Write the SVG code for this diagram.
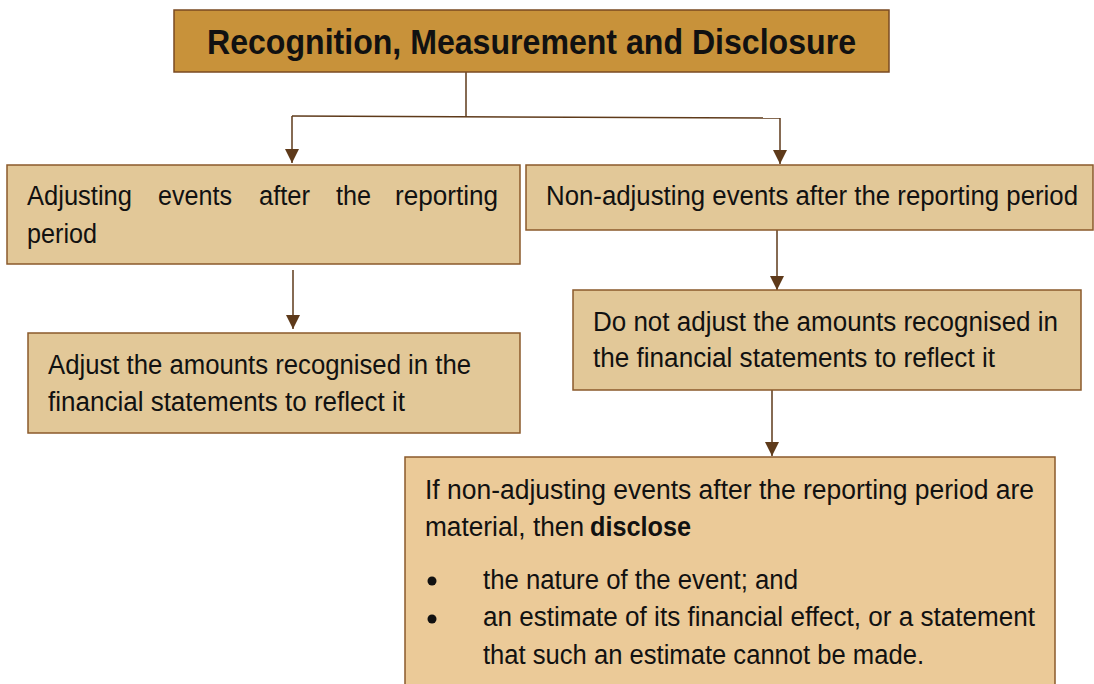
<svg xmlns="http://www.w3.org/2000/svg" width="1094" height="684" viewBox="0 0 1094 684">
<defs>
<marker id="ah" viewBox="0 0 10 10" refX="10" refY="5" markerWidth="14" markerHeight="14" markerUnits="userSpaceOnUse" orient="auto">
<path d="M0,0 L10,5 L0,10 Z" fill="#5E3A1A"/>
</marker>
</defs>
<style>
.box{fill:#E2C898;stroke:#8B5A2B;stroke-width:1.5}
.boxe{fill:#EBCA98;stroke:#8B5A2B;stroke-width:1.5}
.title{fill:#C8923A;stroke:#7A4A22;stroke-width:1.5}
.t{font-family:"Liberation Sans",Arial,sans-serif;font-size:27px;fill:#111}
.tb{font-family:"Liberation Sans",Arial,sans-serif;font-size:27px;font-weight:bold;fill:#111}
.tt{font-family:"Liberation Sans",Arial,sans-serif;font-size:35px;font-weight:bold;fill:#111}
.c{stroke:#5E3A1A;stroke-width:1.5;fill:none}
</style>
<rect width="1094" height="684" fill="#fff"/>
<g id="connectors">
<path class="c" d="M466,72 V117"/>
<path class="c" d="M292,116 L780,118"/>
<path class="c" d="M292,116 V163" marker-end="url(#ah)"/>
<path class="c" d="M780,118 V164" marker-end="url(#ah)"/>
<path class="c" d="M293,270 V329" marker-end="url(#ah)"/>
<path class="c" d="M777,230 V290" marker-end="url(#ah)"/>
<path class="c" d="M772,390 V456" marker-end="url(#ah)"/>
</g>
<g id="title">
<rect class="title" x="174" y="10" width="715" height="62"/>
<text class="tt" x="207" y="54" textLength="649" lengthAdjust="spacingAndGlyphs">Recognition, Measurement and Disclosure</text>
</g>
<g id="adjusting">
<rect class="box" x="7" y="165" width="513" height="99"/>
<text class="t" x="27" y="205" textLength="105" lengthAdjust="spacingAndGlyphs">Adjusting</text>
<text class="t" x="158" y="205" textLength="74" lengthAdjust="spacingAndGlyphs">events</text>
<text class="t" x="259" y="205" textLength="51" lengthAdjust="spacingAndGlyphs">after</text>
<text class="t" x="336" y="205" textLength="35" lengthAdjust="spacingAndGlyphs">the</text>
<text class="t" x="395" y="205" textLength="103" lengthAdjust="spacingAndGlyphs">reporting</text>
<text class="t" x="27" y="243" textLength="70" lengthAdjust="spacingAndGlyphs">period</text>
</g>
<g id="nonadjusting">
<rect class="box" x="526" y="165" width="567" height="65"/>
<text class="t" x="546" y="205" textLength="532" lengthAdjust="spacingAndGlyphs">Non-adjusting events after the reporting period</text>
</g>
<g id="adjust">
<rect class="box" x="28" y="333" width="492" height="100"/>
<text class="t" x="48" y="374" textLength="423" lengthAdjust="spacingAndGlyphs">Adjust the amounts recognised in the</text>
<text class="t" x="48" y="411" textLength="357" lengthAdjust="spacingAndGlyphs">financial statements to reflect it</text>
</g>
<g id="donotadjust">
<rect class="box" x="573" y="290" width="508" height="100"/>
<text class="t" x="593" y="331" textLength="465" lengthAdjust="spacingAndGlyphs">Do not adjust the amounts recognised in</text>
<text class="t" x="593" y="367" textLength="402" lengthAdjust="spacingAndGlyphs">the financial statements to reflect it</text>
</g>
<g id="disclose">
<rect class="boxe" x="405" y="457" width="650" height="230"/>
<text class="t" x="425" y="499" textLength="609" lengthAdjust="spacingAndGlyphs">If non-adjusting events after the reporting period are</text>
<text class="t" x="425" y="536" textLength="159" lengthAdjust="spacingAndGlyphs">material, then</text>
<text class="tb" x="590" y="536" textLength="101" lengthAdjust="spacingAndGlyphs">disclose</text>
<circle cx="432" cy="581" r="4.5" fill="#111"/>
<text class="t" x="483" y="589" textLength="315" lengthAdjust="spacingAndGlyphs">the nature of the event; and</text>
<circle cx="432" cy="619" r="4.5" fill="#111"/>
<text class="t" x="483" y="626" textLength="552" lengthAdjust="spacingAndGlyphs">an estimate of its financial effect, or a statement</text>
<text class="t" x="483" y="664" textLength="441" lengthAdjust="spacingAndGlyphs">that such an estimate cannot be made.</text>
</g>
</svg>
